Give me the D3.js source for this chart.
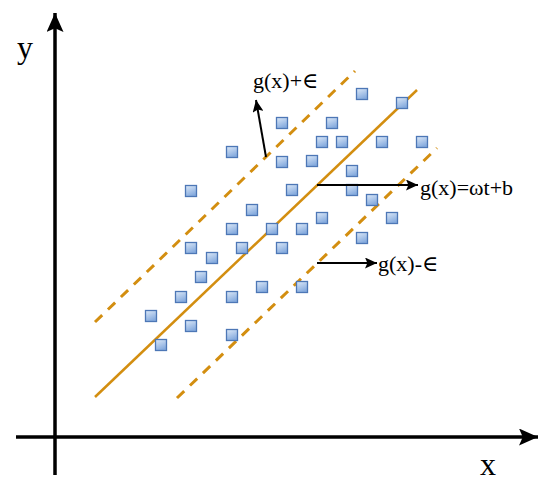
<!DOCTYPE html>
<html>
<head>
<meta charset="utf-8">
<script src="https://cdn.jsdelivr.net/npm/d3@7"></script>
<style>
  html, body { margin: 0; padding: 0; background: #fff; }
  svg { display: block; }
</style>
</head>
<body>
<div id="chart"></div>
<script>
// sample points (grid units, origin at the axes crossing)
const pointX = [9.6, 10.6, 12.6, 13.6, 14.6, 15.7, 13.6, 13.6, 17.7, 17.7, 18.7, 17.7,
  17.7, 19.7, 20.7, 21.7, 22.7, 22.7, 22.7, 23.7, 24.7, 24.7, 25.7, 26.7, 26.7, 27.7,
  28.7, 29.7, 29.7, 30.7, 30.7, 31.7, 32.7, 33.7, 34.7, 36.7]
const pointY = [12.1, 9.2, 14.0, 11.1, 16.0, 17.9, 18.9, 24.6, 28.5, 20.8, 18.9, 14.0,
  10.2, 22.7, 15.0, 20.8, 31.4, 27.5, 18.9, 24.7, 20.8, 15.0, 27.6, 29.5, 21.9, 31.4,
  29.5, 26.6, 24.7, 34.3, 19.9, 23.7, 29.5, 21.9, 33.4, 29.5]

// regression line and the epsilon band, [x1, y1, x2, y2]
const fitLine = [4.0, 4.0, 36.2, 34.7]
const upperBand = [4.0, 11.5, 30.0, 36.6]
const lowerBand = [12.2, 3.9, 38.2, 28.9]

// annotation arrows [x1, y1, x2, y2] and their labels
const arrowLines = [
  [21.1, 28.0, 20.1, 33.7],
  [26.2, 25.2, 36.3, 25.2],
  [26.2, 17.4, 32.2, 17.4]
]
const arrowLabels = ['g(x)+\u2208', 'g(x)=\u03c9t+b', 'g(x)-\u2208']

// axes extents
const xAxisRange = [-3.9, 48.3]
const yAxisRange = [-3.8, 42.4]
const axisLabels = ['x', 'y']

const width = 550
const height = 493
const orange = '#d38e10'

const x = d3.scaleLinear().domain([0, 10]).range([55, 155])
const y = d3.scaleLinear().domain([0, 10]).range([437, 337])

const svg = d3.select('#chart').append('svg')
  .attr('width', width)
  .attr('height', height)
  .style('font-family', '"Liberation Serif", "DejaVu Serif", serif')

svg.append('rect').attr('width', width).attr('height', height).attr('fill', '#fff')

const defs = svg.append('defs')

// gradient for the little squares
const grad = defs.append('linearGradient')
  .attr('id', 'sq').attr('x1', 0).attr('y1', 0).attr('x2', 0.4).attr('y2', 1)
grad.append('stop').attr('offset', '0%').attr('stop-color', '#dde9f8')
grad.append('stop').attr('offset', '100%').attr('stop-color', '#86abde')

// arrow heads
function marker (id, len, wid) {
  defs.append('marker')
    .attr('id', id)
    .attr('markerUnits', 'userSpaceOnUse')
    .attr('viewBox', `0 ${-wid / 2} ${len} ${wid}`)
    .attr('refX', len)
    .attr('refY', 0)
    .attr('markerWidth', len)
    .attr('markerHeight', wid)
    .attr('orient', 'auto')
    .append('path')
    .attr('d', `M0,${-wid / 2}L${len},0L0,${wid / 2}L${len * 0.2},0Z`)
    .attr('fill', '#000')
}
marker('axisHead', 19, 17)
marker('smallHead', 12, 11)

// axes
svg.append('line')
  .attr('x1', x(xAxisRange[0])).attr('y1', y(0))
  .attr('x2', x(xAxisRange[1])).attr('y2', y(0))
  .attr('stroke', '#000').attr('stroke-width', 3.5)
  .attr('marker-end', 'url(#axisHead)')

svg.append('line')
  .attr('x1', x(0)).attr('y1', y(yAxisRange[0]))
  .attr('x2', x(0)).attr('y2', y(yAxisRange[1]))
  .attr('stroke', '#000').attr('stroke-width', 3.5)
  .attr('marker-end', 'url(#axisHead)')

svg.append('text')
  .attr('x', 488).attr('y', 475)
  .attr('text-anchor', 'middle')
  .attr('font-size', 32)
  .text(axisLabels[0])

svg.append('text')
  .attr('x', 25).attr('y', 58)
  .attr('text-anchor', 'middle')
  .attr('font-size', 32)
  .text(axisLabels[1])

// fit line and dashed band
function seg (d, dashed) {
  svg.append('line')
    .attr('x1', x(d[0])).attr('y1', y(d[1]))
    .attr('x2', x(d[2])).attr('y2', y(d[3]))
    .attr('stroke', orange)
    .attr('stroke-width', dashed ? 3 : 2.5)
    .attr('stroke-dasharray', dashed ? '10,8' : null)
}
seg(fitLine, false)
seg(upperBand, true)
seg(lowerBand, true)

// squares
const pts = pointX.map((v, i) => ({ x: v, y: pointY[i] }))
const s = 11
svg.append('g').selectAll('rect')
  .data(pts)
  .enter().append('rect')
  .attr('x', d => x(d.x) - s / 2)
  .attr('y', d => y(d.y) - s / 2)
  .attr('width', s)
  .attr('height', s)
  .attr('fill', 'url(#sq)')
  .attr('stroke', '#4d77b6')
  .attr('stroke-width', 1.3)

// annotation arrows
const ann = svg.append('g')
ann.selectAll('line')
  .data(arrowLines)
  .enter().append('line')
  .attr('x1', d => x(d[0])).attr('y1', d => y(d[1]))
  .attr('x2', d => x(d[2])).attr('y2', d => y(d[3]))
  .attr('stroke', '#000')
  .attr('stroke-width', 2)
  .attr('marker-end', 'url(#smallHead)')

// label offsets from the arrow tips
const labelOffset = [[-3, -12], [2, 10], [1, 8]]
ann.selectAll('text')
  .data(arrowLabels)
  .enter().append('text')
  .attr('x', (d, i) => x(arrowLines[i][2]) + labelOffset[i][0])
  .attr('y', (d, i) => y(arrowLines[i][3]) + labelOffset[i][1])
  .attr('font-size', 22)
  .attr('fill', '#000')
  .text(d => d)
</script>
</body>
</html>
